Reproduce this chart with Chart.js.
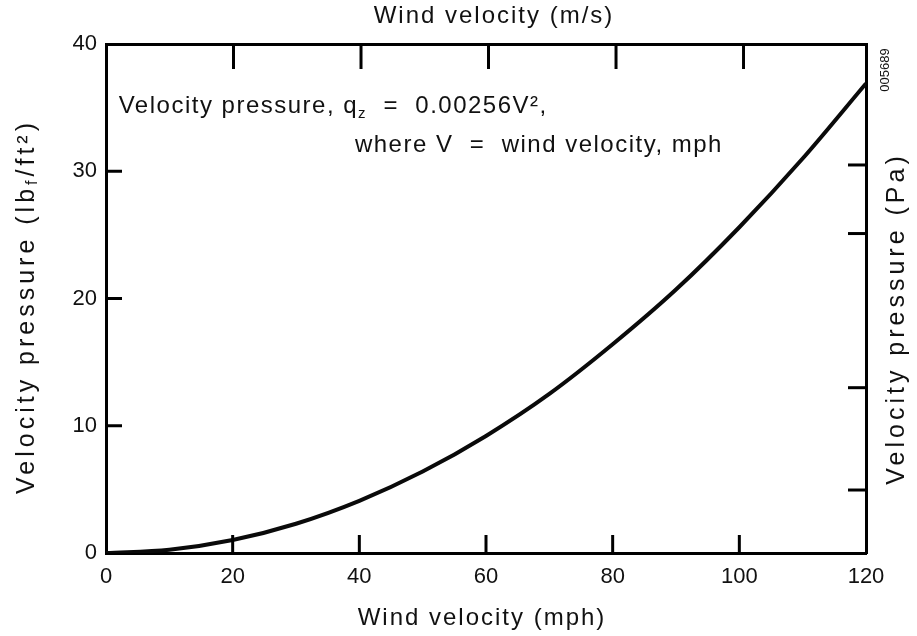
<!DOCTYPE html>
<html>
<head>
<meta charset="utf-8">
<script src="https://cdn.jsdelivr.net/npm/chart.js@4.4.1/dist/chart.umd.min.js"></script>
<style>
    html, body { margin: 0; padding: 0; background: #fff; }
    #wrap { width: 917px; height: 636px; position: relative; }
</style>
</head>
<body>
<div id="wrap"><canvas id="chart"></canvas></div>
<script>
// ==================== DATA ====================
const speedMph = [0, 10, 20, 30, 40, 50, 60, 70, 80, 90, 100, 110, 120];
const pressurePsf = [0, 0.26, 1.02, 2.3, 4.1, 6.4, 9.2, 12.5, 16.4, 20.7, 25.6, 31.0, 36.9];

const bottomTicks = [0, 20, 40, 60, 80, 100, 120];
const leftTicks = [0, 10, 20, 30, 40];
const topTicksMs = [9, 18, 27, 36, 45];
const rightTicksPa = [237, 622, 1202, 1460];

const MPH_PER_MS = 2.23694;
const PA_PER_PSF = 47.88;

const FONT = '"Liberation Sans", Arial, Helvetica, sans-serif';
const INK = '#111';

// ==================== HELPERS ====================
// draw a run of [text, font, dy] pieces, centred or left aligned at (x, y)
function drawRun(ctx, parts, x, y, align) {
    let w = 0;
    parts.forEach(p => { ctx.font = p[1]; w += ctx.measureText(p[0]).width; });
    let cx = align === 'center' ? x - w / 2 : x;
    parts.forEach(p => {
        ctx.font = p[1];
        ctx.fillText(p[0], cx, y + (p[2] || 0));
        cx += ctx.measureText(p[0]).width;
    });
}

// ==================== PLUGIN: inside ticks + text ====================
const decorPlugin = {
    id: 'decor',
    afterDraw(chart) {
        const ctx = chart.ctx;
        const { left, right, top, bottom } = chart.chartArea;
        const sx = chart.scales.x, sy = chart.scales.y;
        const sx2 = chart.scales.x2, sy2 = chart.scales.y2;

        ctx.save();
        ctx.strokeStyle = '#000';
        ctx.lineWidth = 3;
        ctx.lineCap = 'butt';

        // bottom ticks point up
        bottomTicks.slice(1, -1).forEach(v => {
            const px = sx.getPixelForValue(v);
            ctx.beginPath(); ctx.moveTo(px, bottom); ctx.lineTo(px, bottom - 18); ctx.stroke();
        });
        // left ticks point right
        leftTicks.slice(1, -1).forEach(v => {
            const py = sy.getPixelForValue(v);
            ctx.beginPath(); ctx.moveTo(left, py); ctx.lineTo(left + 16, py); ctx.stroke();
        });
        // top ticks point down
        topTicksMs.forEach(v => {
            const px = sx2.getPixelForValue(v);
            ctx.beginPath(); ctx.moveTo(px, top); ctx.lineTo(px, top + 25); ctx.stroke();
        });
        // right ticks point left
        rightTicksPa.forEach(v => {
            const py = sy2.getPixelForValue(v);
            ctx.beginPath(); ctx.moveTo(right, py); ctx.lineTo(right - 18, py); ctx.stroke();
        });

        ctx.fillStyle = INK;
        const big = '24px ' + FONT, small = '15px ' + FONT;

        // formula annotation
        ctx.letterSpacing = '1.5px';
        ctx.textBaseline = 'alphabetic';
        ctx.textAlign = 'left';
        drawRun(ctx, [
            ['Velocity pressure, q', big, 0],
            ['z', small, 5],
            ['  =  0.00256V\u00B2,', big, 0]
        ], sx.getPixelForValue(2), sy.getPixelForValue(34.6), 'left');
        drawRun(ctx, [['where V  =  wind velocity, mph', big, 0]],
            sx.getPixelForValue(39.3), sy.getPixelForValue(31.5), 'left');

        // top / bottom titles
        ctx.letterSpacing = '2px';
        ctx.textBaseline = 'middle';
        drawRun(ctx, [['Wind velocity (m/s)', big, 0]], (left + right) / 2 + 8, 16, 'center');
        drawRun(ctx, [['Wind velocity (mph)', big, 0]], (left + right) / 2 - 4, 618, 'center');

        // left axis title (rotated, with subscript f)
        const vbig = '25px ' + FONT, vsmall = '16px ' + FONT;
        ctx.letterSpacing = '4px';
        ctx.save();
        ctx.translate(27, (top + bottom) / 2 + 8);
        ctx.rotate(-Math.PI / 2);
        drawRun(ctx, [
            ['Velocity pressure (lb', vbig, 0],
            ['f', vsmall, 6],
            ['/ft\u00B2)', vbig, 0]
        ], 0, 0, 'center');
        ctx.restore();

        // right axis title
        ctx.save();
        ctx.translate(897, (top + bottom) / 2 + 20);
        ctx.rotate(-Math.PI / 2);
        drawRun(ctx, [['Velocity pressure (Pa)', vbig, 0]], 0, 0, 'center');
        ctx.restore();

        // figure number
        ctx.save();
        ctx.letterSpacing = '0px';
        ctx.translate(885, top + 26);
        ctx.rotate(-Math.PI / 2);
        drawRun(ctx, [['005689', '13px ' + FONT, 0]], 0, 0, 'center');
        ctx.restore();

        ctx.restore();
    }
};

// ==================== CHART ====================
const axisBorder = { display: true, color: '#000', width: 3 };
const tickFont = { family: FONT, size: 22 };

new Chart(document.getElementById('chart'), {
    type: 'line',
    data: {
        datasets: [{
            data: speedMph.map((v, i) => ({ x: v, y: pressurePsf[i] })),
            borderColor: '#0a0a0a',
            borderWidth: 4,
            pointRadius: 0,
            fill: false,
            cubicInterpolationMode: 'monotone'
        }]
    },
    options: {
        responsive: true,
        maintainAspectRatio: false,
        animation: false,
        layout: { padding: 0 },
        plugins: { legend: { display: false }, tooltip: { enabled: false } },
        scales: {
            x: {
                type: 'linear', position: 'bottom', min: 0, max: 120,
                afterBuildTicks: s => { s.ticks = bottomTicks.map(v => ({ value: v })); },
                afterFit: s => { s.height = 83; },
                grid: { display: false, drawTicks: false },
                border: axisBorder,
                ticks: { color: INK, padding: 11, maxRotation: 0, font: tickFont }
            },
            y: {
                type: 'linear', position: 'left', min: 0, max: 40,
                afterBuildTicks: s => { s.ticks = leftTicks.map(v => ({ value: v })); },
                afterFit: s => { s.width = 106; },
                grid: { display: false, drawTicks: false },
                border: axisBorder,
                ticks: { color: INK, padding: 9, font: tickFont }
            },
            x2: {
                type: 'linear', position: 'top', min: 0, max: 120 / MPH_PER_MS,
                afterFit: s => { s.height = 44; },
                grid: { display: false, drawTicks: false },
                border: axisBorder,
                ticks: { display: false }
            },
            y2: {
                type: 'linear', position: 'right', min: 0, max: 40 * PA_PER_PSF,
                afterFit: s => { s.width = 51; },
                grid: { display: false, drawTicks: false },
                border: axisBorder,
                ticks: { display: false }
            }
        }
    },
    plugins: [decorPlugin]
});
</script>
</body>
</html>
